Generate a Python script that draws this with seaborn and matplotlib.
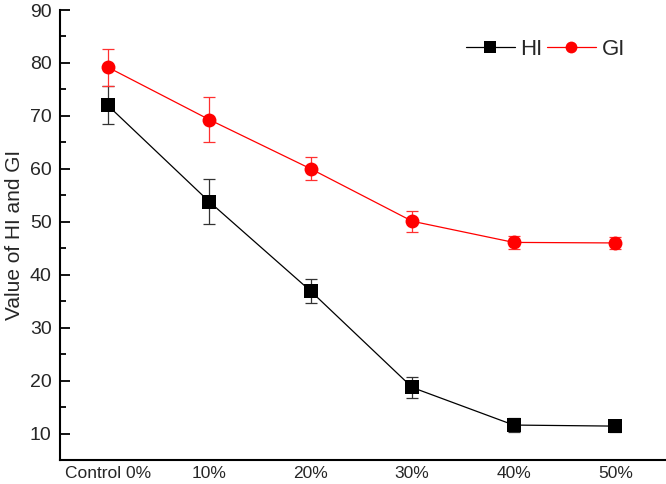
import matplotlib
matplotlib.use("Agg")
import matplotlib.pyplot as plt
import seaborn as sns
import pandas as pd
from matplotlib.ticker import MultipleLocator

categories = ["Control 0%", "10%", "20%", "30%", "40%", "50%"]
hi_values = [72.0, 53.8, 36.9, 18.7, 11.6, 11.4]
hi_errors = [3.6, 4.2, 2.3, 2.0, 1.4, 1.2]
gi_values = [79.2, 69.3, 60.0, 50.1, 46.1, 46.0]
gi_errors = [3.5, 4.2, 2.2, 2.0, 1.3, 1.2]

sns.set_theme(style="ticks")
plt.rcParams['font.family'] = ['Liberation Sans', 'DejaVu Sans']

fig = plt.figure(figsize=(6.66, 4.84), dpi=100)
ax = fig.add_axes([60/666, 1 - 460/484, 606/666, 450/484])

x = list(range(len(categories)))
df = pd.DataFrame({"x": x + x,
                   "value": hi_values + gi_values,
                   "series": ["HI"] * len(x) + ["GI"] * len(x)})

ax.errorbar(x, hi_values, yerr=hi_errors, fmt="none", ecolor="#333333",
            elinewidth=0.9, capsize=4, capthick=0.9, zorder=2)
ax.errorbar(x, gi_values, yerr=gi_errors, fmt="none", ecolor="#ff3030",
            elinewidth=0.9, capsize=4, capthick=0.9, zorder=2)

sns.lineplot(data=df, x="x", y="value", hue="series", style="series",
             palette={"HI": "black", "GI": "red"},
             markers={"HI": "s", "GI": "o"}, dashes=False,
             markersize=10, markeredgewidth=0, linewidth=0.9, ax=ax, zorder=3)

ax.set_xlim(-0.47, 5.5)
ax.set_ylim(5, 90)
ax.set_xticks(x)
ax.set_xticklabels(categories)
ax.yaxis.set_minor_locator(MultipleLocator(5))
ax.set_yticks(range(10, 91, 10))
ax.tick_params(axis="y", which="major", direction="in", length=7, width=1.3,
               labelsize=14, pad=6, color="black")
ax.tick_params(axis="y", which="minor", direction="in", length=4, width=1.3,
               color="black")
ax.tick_params(axis="x", length=0, labelsize=12.5, pad=4)
ax.set_xlabel("")
ax.set_ylabel("Value of HI and GI", fontsize=15, labelpad=4)

for s in ["top", "right"]:
    ax.spines[s].set_visible(False)
for s in ["left", "bottom"]:
    ax.spines[s].set_linewidth(1.5)
    ax.spines[s].set_color("black")

leg = ax.legend(loc="upper right", bbox_to_anchor=(0.965, 0.98), ncol=2,
                frameon=False, fontsize=16, handlelength=2.2,
                columnspacing=0.2, handletextpad=0.25, markerscale=0.85)

fig.savefig("out.png", dpi=100)
